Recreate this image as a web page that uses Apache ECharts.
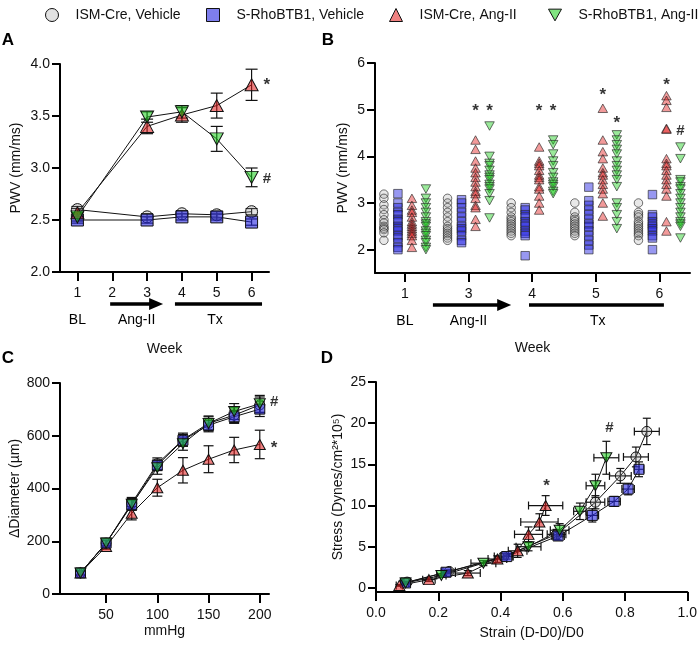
<!DOCTYPE html>
<html>
<head>
<meta charset="utf-8">
<script src="https://cdn.jsdelivr.net/npm/echarts@6/dist/echarts.min.js"></script>
<style>
  html, body { margin: 0; padding: 0; background: #fff; }
  #chart { width: 700px; height: 645px; }
</style>
</head>
<body>
<div id="chart"></div>
<script>
// 四组：名称顺序与图例一致
const groupNames = ['ISM-Cre, Vehicle', 'S-RhoBTB1, Vehicle', 'ISM-Cre, Ang-II', 'S-RhoBTB1, Ang-II'];

// A: PWV 均值 ± SEM
const aWeeks = [1, 3, 4, 5, 6];
const aCreVeh = [2.60, 2.53, 2.56, 2.55, 2.58];
const aRhoVeh = [2.50, 2.50, 2.53, 2.53, 2.48];
const aCreAng = [2.57, 3.40, 3.51, 3.60, 3.80];
const aRhoAng = [2.53, 3.49, 3.54, 3.28, 2.91];
const aCreVehErr = [0.03, 0.03, 0.03, 0.03, 0.03];
const aRhoVehErr = [0.03, 0.03, 0.03, 0.03, 0.03];
const aCreAngErr = [0.04, 0.07, 0.07, 0.12, 0.15];
const aRhoAngErr = [0.04, 0.05, 0.06, 0.12, 0.09];
const aTicks = [1, 2, 3, 4, 5, 6];

// B: 单个动物 PWV，每周一列
const bWeeks = ['1', '3', '4', '5', '6'];
const bCreVeh = [
  [3.19, 3.1, 2.96, 2.86, 2.75, 2.64, 2.57, 2.5, 2.46, 2.43, 2.36, 2.2],
  [3.1, 3.0, 2.9, 2.8, 2.7, 2.6, 2.5, 2.45, 2.4, 2.35, 2.3, 2.25, 2.2],
  [3.0, 2.9, 2.8, 2.7, 2.65, 2.6, 2.55, 2.5, 2.45, 2.4, 2.35, 2.3],
  [3.0, 2.8, 2.7, 2.65, 2.6, 2.55, 2.5, 2.45, 2.4, 2.35, 2.3],
  [3.0, 2.8, 2.75, 2.7, 2.6, 2.55, 2.5, 2.45, 2.4, 2.35, 2.3, 2.2]
];
const bRhoVeh = [
  [3.2, 3.0, 2.9, 2.8, 2.75, 2.65, 2.6, 2.5, 2.45, 2.4, 2.3, 2.25, 2.15, 2.05, 2.0],
  [3.07, 3.0, 2.9, 2.8, 2.7, 2.6, 2.5, 2.45, 2.4, 2.3, 2.2, 2.15],
  [2.9, 2.85, 2.75, 2.7, 2.6, 2.55, 2.5, 2.4, 2.35, 2.3, 1.87],
  [3.34, 3.05, 2.95, 2.85, 2.75, 2.65, 2.55, 2.5, 2.4, 2.3, 2.2, 2.1, 2.0],
  [3.18, 2.75, 2.7, 2.6, 2.55, 2.5, 2.45, 2.4, 2.3, 2.25, 2.0]
];
const bCreAng = [
  [3.1, 2.95, 2.85, 2.8, 2.7, 2.6, 2.55, 2.5, 2.45, 2.4, 2.35, 2.3, 2.2, 2.05],
  [4.35, 4.15, 3.9, 3.75, 3.65, 3.55, 3.45, 3.35, 3.25, 3.2, 3.1, 2.95, 2.9, 2.65, 2.5],
  [4.2, 3.9, 3.85, 3.8, 3.7, 3.6, 3.55, 3.5, 3.35, 3.3, 3.15, 3.0, 2.85],
  [5.03, 4.35, 4.1, 3.95, 3.75, 3.65, 3.6, 3.5, 3.4, 3.3, 3.2, 3.0, 2.72],
  [5.3, 5.2, 5.05, 4.6, 4.58, 3.95, 3.85, 3.8, 3.7, 3.6, 3.5, 3.4, 3.3, 3.15, 2.6, 2.4]
];
const bRhoAng = [
  [3.3, 3.1, 3.0, 2.9, 2.8, 2.7, 2.6, 2.55, 2.5, 2.4, 2.35, 2.3, 2.2, 2.15, 2.05, 2.0],
  [4.65, 4.0, 3.85, 3.8, 3.7, 3.6, 3.55, 3.5, 3.4, 3.35, 3.3, 3.2, 3.05, 2.68],
  [4.35, 4.25, 4.05, 3.9, 3.8, 3.65, 3.55, 3.45, 3.4, 3.35, 3.25, 3.2],
  [4.46, 4.35, 4.25, 4.15, 4.05, 3.9, 3.8, 3.7, 3.6, 3.5, 3.35, 3.0, 2.9, 2.75, 2.6, 2.45],
  [4.2, 3.95, 3.5, 3.45, 3.35, 3.3, 3.2, 3.1, 3.0, 2.9, 2.8, 2.7, 2.6, 2.55, 2.5, 2.25]
];
const bTicks = [0, 1, 2, 3, 4];
const bYTicks = [2, 3, 4, 5, 6];

// C: 压力-直径
const cPressure = [25, 50, 75, 100, 125, 150, 175, 200];
const cCreVeh = [80, 193, 344, 494, 585, 647, 678, 717];
const cRhoVeh = [80, 193, 338, 488, 583, 640, 672, 701];
const cCreAng = [80, 180, 306, 403, 469, 511, 546, 567];
const cRhoAng = [80, 193, 340, 479, 570, 647, 692, 721];
const cCreVehErr = [8, 10, 22, 22, 25, 25, 28, 30];
const cRhoVehErr = [8, 10, 20, 20, 22, 25, 25, 28];
const cCreAngErr = [8, 10, 25, 32, 48, 51, 48, 54];
const cRhoAngErr = [8, 10, 22, 25, 25, 28, 30, 32];
const cTicks = [50, 100, 150, 200];

// D: 应力-应变
const dCreVehX = [0.10, 0.235, 0.41, 0.58, 0.705, 0.785, 0.835, 0.87];
const dCreVehY = [0.7, 2.0, 3.8, 6.5, 10.4, 13.6, 15.9, 19.0];
const dCreVehXErr = [0.01, 0.02, 0.03, 0.03, 0.03, 0.035, 0.04, 0.04];
const dCreVehYErr = [0.1, 0.2, 0.4, 0.6, 0.8, 0.9, 1.2, 1.6];
const dRhoVehX = [0.095, 0.225, 0.42, 0.585, 0.695, 0.765, 0.81, 0.845];
const dRhoVehY = [0.6, 1.9, 3.8, 6.3, 8.8, 10.5, 12.0, 14.4];
const dRhoVehXErr = [0.01, 0.015, 0.02, 0.02, 0.02, 0.02, 0.02, 0.015];
const dRhoVehYErr = [0.1, 0.2, 0.3, 0.5, 0.8, 0.6, 0.7, 0.9];
const dCreAngX = [0.075, 0.17, 0.295, 0.39, 0.455, 0.49, 0.525, 0.545];
const dCreAngY = [0.3, 1.0, 1.8, 3.5, 4.5, 6.5, 8.0, 10.0];
const dCreAngXErr = [0.01, 0.02, 0.04, 0.03, 0.03, 0.045, 0.06, 0.055];
const dCreAngYErr = [0.1, 0.2, 0.3, 0.4, 0.8, 0.9, 1.0, 1.2];
const dRhoAngX = [0.095, 0.21, 0.345, 0.49, 0.59, 0.655, 0.705, 0.74];
const dRhoAngY = [0.6, 1.5, 3.0, 5.0, 7.0, 9.3, 12.4, 15.8];
const dRhoAngXErr = [0.01, 0.015, 0.04, 0.04, 0.03, 0.02, 0.03, 0.04];
const dRhoAngYErr = [0.1, 0.2, 0.3, 0.5, 0.8, 1.0, 1.4, 2.0];
const dYTicks = [0, 5, 10, 15, 20, 25];

// 显著性标记 [panel, x, y, text]
const notes = [
  [0, 6.44, 3.83, '*'], [0, 6.44, 2.90, '#'],
  [1, 1.11, 5.06, '*'], [1, 1.33, 5.06, '*'], [1, 2.11, 5.06, '*'], [1, 2.33, 5.06, '*'],
  [1, 3.11, 5.40, '*'], [1, 3.33, 4.79, '*'], [1, 4.11, 5.60, '*'], [1, 4.33, 4.54, '#'],
  [2, 214, 567, '*'], [2, 214, 729, '#'],
  [3, 0.548, 12.8, '*'], [3, 0.75, 19.45, '#']
];

const FONT = '"Liberation Sans", Arial, Helvetica, sans-serif';
const INK = '#111';
const fills = ['rgba(150,150,150,0.28)', 'rgba(40,40,225,0.6)', 'rgba(225,25,25,0.55)', 'rgba(25,205,25,0.55)'];
const shapes = ['circle', 'rect', 'triangle', 'path://M0,0L10,0L5,9Z'];
const bOffsets = [-0.33, -0.11, 0.11, 0.33];

const zip = (xs, ys) => xs.map((x, i) => [x, ys[i]]);
const sz = (s) => [s, s, [s + 1, s], [s + 1, s]];

function lineSeries(gi, k, pts, size) {
  return {
    type: 'line', name: groupNames[k], xAxisIndex: gi, yAxisIndex: gi,
    data: pts, symbol: shapes[k], symbolSize: sz(size)[k], showSymbol: true,
    lineStyle: { color: INK, width: 1 },
    itemStyle: { color: fills[k], borderColor: INK, borderWidth: 1 },
    z: 3, silent: true,
  };
}

// 误差线：[x, y, ex, ey]
function errSeries(gi, data, cap) {
  return {
    type: 'custom', xAxisIndex: gi, yAxisIndex: gi, data, encode: { x: 0, y: 1 }, z: 2, silent: true,
    renderItem(params, api) {
      const x = api.value(0), y = api.value(1), ex = api.value(2), ey = api.value(3);
      const st = { stroke: INK, lineWidth: 1.2 };
      const kids = [];
      if (ey > 0) {
        const top = api.coord([x, y + ey]), bot = api.coord([x, y - ey]);
        kids.push({ type: 'line', shape: { x1: top[0], y1: top[1], x2: bot[0], y2: bot[1] }, style: st });
        kids.push({ type: 'line', shape: { x1: top[0] - cap, y1: top[1], x2: top[0] + cap, y2: top[1] }, style: st });
        kids.push({ type: 'line', shape: { x1: bot[0] - cap, y1: bot[1], x2: bot[0] + cap, y2: bot[1] }, style: st });
      }
      if (ex > 0) {
        const l = api.coord([x - ex, y]), r = api.coord([x + ex, y]);
        kids.push({ type: 'line', shape: { x1: l[0], y1: l[1], x2: r[0], y2: r[1] }, style: st });
        kids.push({ type: 'line', shape: { x1: l[0], y1: l[1] - cap, x2: l[0], y2: l[1] + cap }, style: st });
        kids.push({ type: 'line', shape: { x1: r[0], y1: r[1] - cap, x2: r[0], y2: r[1] + cap }, style: st });
      }
      return { type: 'group', children: kids };
    },
  };
}

function bScatter(k, cols) {
  return {
    type: 'scatter', name: groupNames[k], xAxisIndex: 1, yAxisIndex: 1,
    data: cols.flatMap((col, i) => col.map((v) => [i + bOffsets[k], v])),
    symbol: shapes[k], symbolSize: sz(8.5)[k],
    itemStyle: { color: fills[k], borderColor: '#222', borderWidth: 0.8 },
    z: 3, silent: true,
  };
}

function notesSeries(gi) {
  return {
    type: 'scatter', xAxisIndex: gi, yAxisIndex: gi, clip: false, silent: true, z: 5,
    symbolSize: 0, itemStyle: { color: 'transparent' },
    data: notes.filter((n) => n[0] === gi).map((n) => ({
      value: [n[1], n[2]],
      label: {
        show: true, position: 'inside', formatter: n[3], color: '#000', fontFamily: FONT,
        fontSize: n[3] === '*' ? 17 : 15, fontWeight: 'bold', offset: n[3] === '*' ? [0, 4] : [0, 0],
      },
    })),
  };
}

const axisBase = {
  axisLine: { lineStyle: { color: '#000', width: 2 } },
  axisTick: { show: true, length: 8, lineStyle: { color: '#000', width: 2 } },
  axisLabel: { color: INK, fontSize: 14, fontFamily: FONT, margin: 10 },
  splitLine: { show: false },
  nameLocation: 'middle',
  nameTextStyle: { color: INK, fontSize: 14, fontFamily: FONT },
};
function ax(extra) {
  return {
    ...axisBase, ...extra,
    axisLine: { ...axisBase.axisLine, onZero: false },
    axisTick: { ...axisBase.axisTick, ...(extra.axisTick || {}) },
    axisLabel: { ...axisBase.axisLabel, ...(extra.axisLabel || {}) },
  };
}

const legendIcons = ['circle', 'rect', 'triangle', 'path://M0,0L10,0L5,9Z'];
const legendLeft = [40, 201, 384, 543];

const option = {
  animation: false,
  textStyle: { fontFamily: FONT },
  legend: groupNames.map((name, k) => ({
    data: [name], left: legendLeft[k], top: 3, icon: legendIcons[k],
    itemWidth: 13, itemHeight: 13, selectedMode: false,
    itemStyle: { color: fills[k], borderColor: INK, borderWidth: 1 },
    textStyle: { color: INK, fontSize: 14, fontFamily: FONT, padding: [0, 0, 0, 12] },
  })),
  grid: [
    { left: 60, top: 64, width: 209, height: 208 },
    { left: 375, top: 63, width: 315, height: 210 },
    { left: 60, top: 383, width: 209, height: 211 },
    { left: 376, top: 382, width: 313, height: 210 },
  ],
  xAxis: [
    ax({ gridIndex: 0, type: 'value', min: 0.5, max: 6.5, name: 'Week', nameGap: 70,
      axisTick: { length: 9, customValues: aTicks }, axisLabel: { margin: 14, customValues: aTicks } }),
    ax({ gridIndex: 1, type: 'value', min: -0.47, max: 4.48, name: 'Week', nameGap: 68,
      axisTick: { length: 9, customValues: bTicks },
      axisLabel: { margin: 14, customValues: bTicks, formatter: (v) => bWeeks[Math.round(v)] } }),
    ax({ gridIndex: 2, type: 'value', min: 5, max: 209, name: 'mmHg', nameGap: 30,
      axisTick: { length: 9, customValues: cTicks }, axisLabel: { margin: 14, customValues: cTicks } }),
    ax({ gridIndex: 3, type: 'value', min: 0, max: 1, interval: 0.2, name: 'Strain (D-D0)/D0', nameGap: 34,
      axisTick: { length: 9 }, axisLabel: { margin: 14, formatter: (v) => v.toFixed(1) } }),
  ],
  yAxis: [
    ax({ gridIndex: 0, type: 'value', min: 2, max: 4, interval: 0.5, name: 'PWV (mm/ms)', nameGap: 37,
      axisLabel: { formatter: (v) => v.toFixed(1) } }),
    ax({ gridIndex: 1, type: 'value', min: 1.5, max: 6, name: 'PWV (mm/ms)', nameGap: 25,
      axisTick: { customValues: bYTicks }, axisLabel: { customValues: bYTicks } }),
    ax({ gridIndex: 2, type: 'value', min: 0, max: 800, interval: 200, name: 'ΔDiameter (µm)', nameGap: 38 }),
    ax({ gridIndex: 3, type: 'value', min: -0.5, max: 25, name: 'Stress (Dynes/cm²*10⁵)', nameGap: 31,
      axisTick: { customValues: dYTicks }, axisLabel: { customValues: dYTicks } }),
  ],
  series: [
    // A
    errSeries(0, aWeeks.map((w, i) => [w, aCreVeh[i], 0, aCreVehErr[i]]), 6),
    errSeries(0, aWeeks.map((w, i) => [w, aRhoVeh[i], 0, aRhoVehErr[i]]), 6),
    errSeries(0, aWeeks.map((w, i) => [w, aCreAng[i], 0, aCreAngErr[i]]), 6),
    errSeries(0, aWeeks.map((w, i) => [w, aRhoAng[i], 0, aRhoAngErr[i]]), 6),
    lineSeries(0, 0, zip(aWeeks, aCreVeh), 12),
    lineSeries(0, 1, zip(aWeeks, aRhoVeh), 12),
    lineSeries(0, 2, zip(aWeeks, aCreAng), 12),
    lineSeries(0, 3, zip(aWeeks, aRhoAng), 12),
    notesSeries(0),
    // B
    bScatter(0, bCreVeh),
    bScatter(1, bRhoVeh),
    bScatter(2, bCreAng),
    bScatter(3, bRhoAng),
    notesSeries(1),
    // C
    errSeries(2, cPressure.map((p, i) => [p, cCreVeh[i], 0, cCreVehErr[i]]), 5),
    errSeries(2, cPressure.map((p, i) => [p, cRhoVeh[i], 0, cRhoVehErr[i]]), 5),
    errSeries(2, cPressure.map((p, i) => [p, cCreAng[i], 0, cCreAngErr[i]]), 5),
    errSeries(2, cPressure.map((p, i) => [p, cRhoAng[i], 0, cRhoAngErr[i]]), 5),
    lineSeries(2, 2, zip(cPressure, cCreAng), 10),
    lineSeries(2, 0, zip(cPressure, cCreVeh), 10),
    lineSeries(2, 1, zip(cPressure, cRhoVeh), 10),
    lineSeries(2, 3, zip(cPressure, cRhoAng), 10),
    notesSeries(2),
    // D
    errSeries(3, dCreVehX.map((x, i) => [x, dCreVehY[i], dCreVehXErr[i], dCreVehYErr[i]]), 4),
    errSeries(3, dRhoVehX.map((x, i) => [x, dRhoVehY[i], dRhoVehXErr[i], dRhoVehYErr[i]]), 4),
    errSeries(3, dCreAngX.map((x, i) => [x, dCreAngY[i], dCreAngXErr[i], dCreAngYErr[i]]), 4),
    errSeries(3, dRhoAngX.map((x, i) => [x, dRhoAngY[i], dRhoAngXErr[i], dRhoAngYErr[i]]), 4),
    lineSeries(3, 0, zip(dCreVehX, dCreVehY), 10),
    lineSeries(3, 1, zip(dRhoVehX, dRhoVehY), 10),
    lineSeries(3, 2, zip(dCreAngX, dCreAngY), 10),
    lineSeries(3, 3, zip(dRhoAngX, dRhoAngY), 10),
    notesSeries(3),
  ],
};

const chart = echarts.init(document.getElementById('chart'), null, { renderer: 'canvas' });
chart.setOption(option);

// 时间段标注（BL / Ang-II / Tx），按坐标轴换算像素
const periods = [
  { grid: 0, yMin: 2, labels: [['BL', 1], ['Ang-II', 2.7], ['Tx', 4.95]], arrow: [1.94, 3.46], tx: [3.8, 6.3] },
  { grid: 1, yMin: 1.5, labels: [['BL', 0], ['Ang-II', 1], ['Tx', 3.03]], arrow: [0.44, 1.67], tx: [1.95, 4.07] },
];
const textEl = (text, x, y, font) => ({
  type: 'text', x, y, silent: true,
  style: { text, font, fill: '#000', align: 'center', verticalAlign: 'middle', textAlign: 'center', textVerticalAlign: 'middle' },
});
const graphics = [];
periods.forEach((p) => {
  const px = (v) => chart.convertToPixel({ gridIndex: p.grid }, [v, p.yMin]);
  const base = px(0)[1];
  const ya = base + 32, yl = base + 48;
  const a0 = px(p.arrow[0])[0], a1 = px(p.arrow[1])[0];
  graphics.push({ type: 'line', silent: true, shape: { x1: a0, y1: ya, x2: a1 - 10, y2: ya }, style: { stroke: '#000', lineWidth: 3.5 } });
  graphics.push({ type: 'polygon', silent: true, shape: { points: [[a1 - 14, ya - 6], [a1, ya], [a1 - 14, ya + 6]] }, style: { fill: '#000' } });
  const t0 = px(p.tx[0])[0], t1 = px(p.tx[1])[0];
  graphics.push({ type: 'line', silent: true, shape: { x1: t0, y1: ya, x2: t1, y2: ya }, style: { stroke: '#000', lineWidth: 3.5 } });
  p.labels.forEach(([t, v]) => graphics.push(textEl(t, px(v)[0], yl, '14px ' + FONT)));
});
[['A', 8, 40], ['B', 328, 40], ['C', 8, 358], ['D', 327, 358]].forEach(([t, x, y]) => {
  graphics.push(textEl(t, x, y, 'bold 17px ' + FONT));
});
chart.setOption({ graphic: graphics });
</script>
</body>
</html>
